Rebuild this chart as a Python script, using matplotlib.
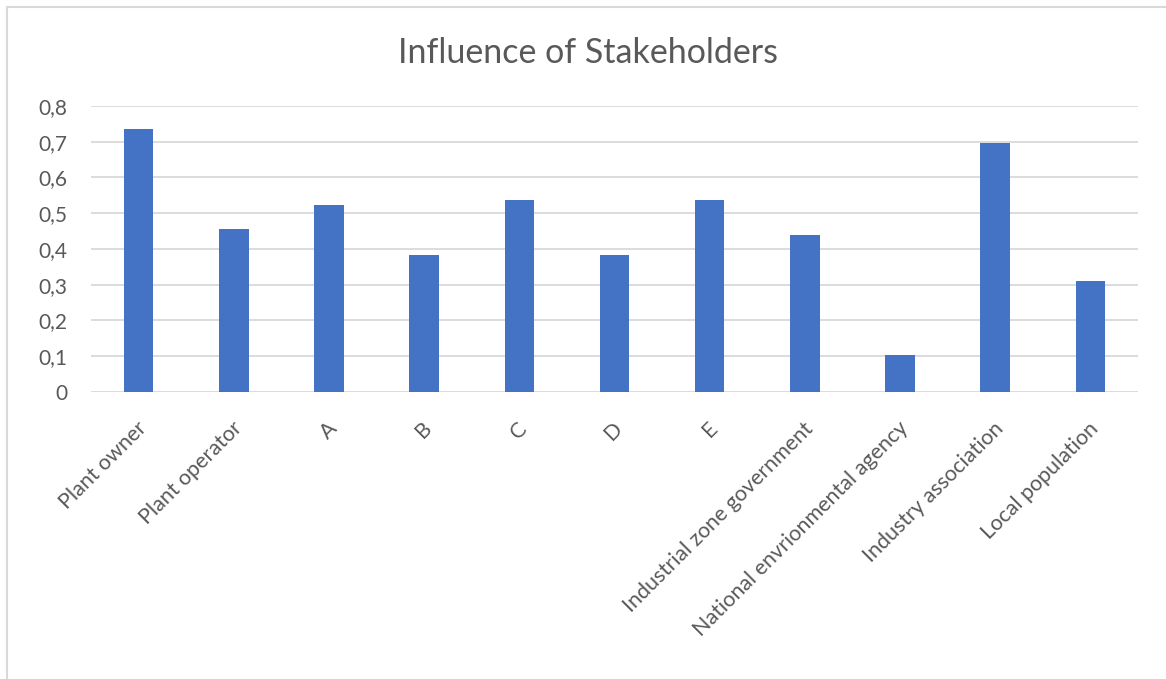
import numpy as np
import matplotlib.pyplot as plt
from matplotlib.patches import Rectangle
from matplotlib.ticker import FuncFormatter

categories = ['Plant owner', 'Plant operator', 'A', 'B', 'C', 'D', 'E',
              'Industrial zone government', 'National envrionmental agency',
              'Industry association', 'Local population']
influence = [0.737, 0.456, 0.523, 0.383, 0.538, 0.382, 0.537, 0.440, 0.103, 0.697, 0.310]

plt.rcParams['font.family'] = ['Lato', 'DejaVu Sans']
txt = '#595959'
grid = '#D9D9D9'

fig = plt.figure(figsize=(11.66, 6.79), dpi=100)
ax = fig.add_axes([91/1166, 1-392/679, (1138-91)/1166, (392-106)/679])

x = np.arange(len(categories))
ax.bar(x, influence, width=0.31, color='#4472C4', zorder=3)

ax.set_xlim(-0.5, len(categories)-0.5)
ax.set_ylim(0, 0.8)
ax.set_yticks(np.arange(0, 0.81, 0.1))
ax.yaxis.set_major_formatter(FuncFormatter(lambda v, p: '0' if abs(v) < 1e-9 else f'{v:.1f}'.replace('.', ',')))
ax.grid(axis='y', color=grid, linewidth=1.3, zorder=0)
for s in ax.spines.values():
    s.set_visible(False)
ax.tick_params(axis='y', length=0, pad=17, labelsize=15, labelcolor=txt)
ax.tick_params(axis='x', length=0, pad=24, labelsize=15.5, labelcolor=txt)
ax.set_xticks(x + 0.05)
ax.set_xticklabels(categories, rotation=45, ha='right', va='center', rotation_mode='anchor')

fig.text(0.504, 1-53/679, 'Influence of Stakeholders', ha='center', va='center',
         fontsize=24.5, color=txt)

# chart frame
fig.patches.append(Rectangle((7/1166, -0.1), 1.2, 1.1-7/679, transform=fig.transFigure,
                             fill=False, edgecolor=grid, linewidth=1.5))

fig.savefig('out.png', dpi=100)
